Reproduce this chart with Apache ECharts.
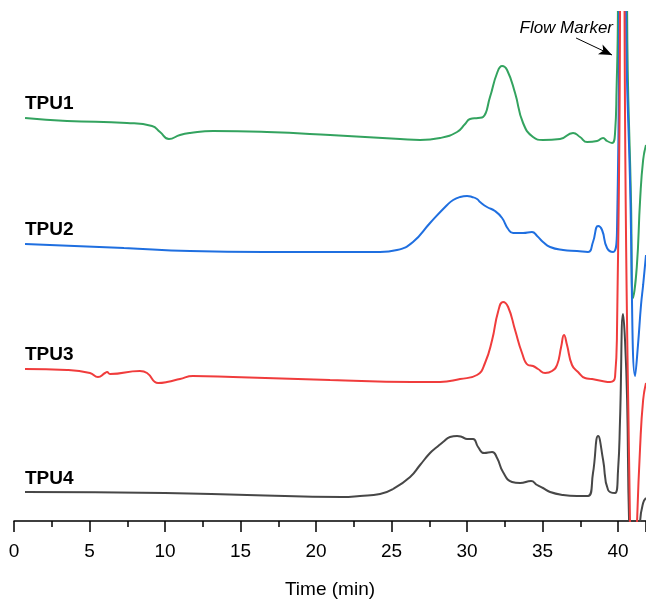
<!DOCTYPE html>
<html><head><meta charset="utf-8">
<script src="https://cdn.jsdelivr.net/npm/echarts@6.0.0/dist/echarts.min.js"></script>
<style>html,body{margin:0;padding:0;background:#fff}#c{width:646px;height:601px}</style>
</head><body><div id="c"></div>
<script>
// Chromatogram data: time (min) and detector signal (a.u., relative to each trace's baseline)
const traceNames = ['TPU1', 'TPU2', 'TPU3', 'TPU4'];
const traceOffsets = [380, 265, 135, 20];
const traceColors = ['#33a35f', '#1f6fe0', '#f03c3c', '#474747'];

const tpu1Time = [0.73, 3.51, 7.48, 9.14, 9.67, 10.26, 10.99, 11.66, 13.18, 16.75, 20.93, 25.56, 26.89, 28.21, 29.34, 29.87, 30.2, 30.73, 31.06, 31.52, 31.99, 32.32, 32.65, 33.18, 33.71, 34.37, 35.03, 36.16, 37.02, 37.48, 37.95, 38.61, 39.01, 39.27, 39.6, 39.8, 39.9, 39.99, 40.3, 40.6, 40.86, 40.99, 41.24, 41.46, 41.66, 41.85];
const tpu1Signal = [23, 20, 18, 15, 9, 2, 6, 8, 10, 9, 6, 2, 1, 3, 9, 17, 22, 23, 24, 44, 68, 75, 71, 48, 18, 4, 1, 2, 8, 4, -1, 0, 3, 0, -2, 8, 51, 129, 2000, 129, -62, -157, -126, -59, -19, -4];

const tpu2Time = [0.73, 7.28, 11.66, 16.56, 20.93, 24.24, 25.36, 26.42, 27.55, 28.68, 29.08, 29.54, 30.0, 30.33, 30.66, 30.86, 31.32, 31.85, 32.32, 32.72, 33.05, 33.71, 34.3, 34.64, 35.03, 35.5, 36.36, 37.28, 38.01, 38.34, 38.68, 38.94, 39.27, 39.67, 39.93, 40.07, 40.3, 40.53, 40.79, 41.13, 41.32, 41.52, 41.66, 41.85];
const tpu2Signal = [12, 8, 5, 4, 4, 4, 6, 14, 33, 51, 56, 59, 60, 59, 57, 54, 49, 45, 38, 27, 23, 23, 24, 20, 14, 9, 6, 5, 4, 14, 30, 26, 8, 4, 26, 244, 2000, 244, 76, -120, -89, -49, -29, 1];

const tpu3Time = [0.73, 3.51, 5.03, 5.56, 6.03, 6.16, 6.36, 8.34, 8.81, 9.54, 10.13, 10.99, 11.85, 14.5, 20.93, 26.36, 28.21, 29.54, 30.66, 31.19, 31.66, 32.05, 32.38, 32.72, 33.18, 33.64, 34.04, 34.37, 34.7, 35.17, 35.63, 35.96, 36.23, 36.42, 36.62, 36.95, 37.35, 37.81, 38.28, 38.94, 39.47, 39.8, 39.93, 40.13, 40.26, 40.43, 40.79, 41.03, 41.26, 41.46, 41.66, 41.85];
const tpu3Signal = [17, 16, 13, 9, 13, 14, 12, 15, 13, 3, 4, 7, 10, 9, 6, 4, 4, 7, 11, 23, 46, 74, 84, 79, 56, 33, 21, 20, 17, 13, 15, 21, 39, 51, 41, 21, 14, 8, 7, 5, 4, 9, 56, 374, 2000, 374, -135, -260, -135, -61, -14, 3];

const tpu4Time = [0.73, 10.0, 15.43, 21.72, 22.91, 24.24, 25.1, 26.23, 26.89, 27.55, 28.01, 28.41, 28.87, 29.34, 29.67, 30.0, 30.4, 30.73, 31.13, 31.66, 31.99, 32.38, 32.98, 33.51, 34.24, 34.64, 35.03, 35.5, 36.36, 37.28, 38.01, 38.34, 38.68, 39.01, 39.34, 39.8, 40.0, 40.13, 40.33, 40.46, 40.6, 40.73, 41.06, 41.46, 41.66, 41.85];
const tpu4Signal = [9, 8, 6, 4, 5, 7, 12, 24, 36, 48, 54, 59, 64, 65, 64, 62, 62, 54, 48, 49, 43, 29, 19, 18, 20, 16, 13, 9, 6, 5, 5, 28, 65, 41, 11, 8, 31, 81, 187, 161, 101, -20, -150, -20, -2, 3];

const xTickValues = [0, 5, 10, 15, 20, 25, 30, 35, 40];
const xAxisName = 'Time (min)';
const flowMarkerText = 'Flow Marker';
const flowMarkerFrom = [37.22, 483];
const flowMarkerTo = [39.6, 466];

const traceTimes = [tpu1Time, tpu2Time, tpu3Time, tpu4Time];
const traceSignals = [tpu1Signal, tpu2Signal, tpu3Signal, tpu4Signal];
const FONT = '"Liberation Sans", Arial, sans-serif';

const chart = echarts.init(document.getElementById('c'), null, {renderer: 'canvas'});

const drawOrder = [3, 0, 1, 2];
const series = drawOrder.map(i => {
  const s = {
    name: traceNames[i],
    type: 'line',
    data: traceTimes[i].map((t, k) => [t, traceSignals[i][k] + traceOffsets[i]]),
    showSymbol: false,
    symbol: 'none',
    smooth: 0.5,
    clip: true,
    lineStyle: {color: traceColors[i], width: 2},
    itemStyle: {color: traceColors[i]},
    silent: true
  };
  if (i === 0) {
    s.markLine = {
      silent: true,
      symbol: ['none', 'arrow'],
      symbolSize: [8, 13],
      label: {show: false},
      lineStyle: {color: '#000', width: 1, type: 'solid'},
      data: [[{coord: flowMarkerFrom}, {coord: flowMarkerTo}]]
    };
  }
  return s;
});

const labelCenters = [103.5, 230, 354.5, 479];
const graphic = traceNames.map((n, i) => ({
  type: 'text', x: 25, y: labelCenters[i],
  style: {text: n, font: 'bold 19px ' + FONT, fill: '#000', verticalAlign: 'middle', textVerticalAlign: 'middle'}
}));
graphic.push({
  type: 'text', x: 613, y: 28,
  style: {text: flowMarkerText, font: 'italic 17px ' + FONT, fill: '#000', align: 'right', textAlign: 'right', verticalAlign: 'middle', textVerticalAlign: 'middle'}
});

chart.setOption({
  animation: false,
  backgroundColor: '#fff',
  grid: {left: 14, right: 0, top: 12, bottom: 80, containLabel: false, outerBoundsMode: 'none'},
  xAxis: {
    type: 'value', min: 0, max: 41.85, interval: 5,
    name: xAxisName, nameLocation: 'middle', nameGap: 59,
    nameTextStyle: {fontSize: 19, color: '#000', fontFamily: FONT},
    axisLine: {show: true, onZero: false, lineStyle: {color: '#000', width: 1.5}},
    axisTick: {show: true, inside: false, length: 11, lineStyle: {color: '#000', width: 1.5}},
    minorTick: {show: true, splitNumber: 2, length: 6, lineStyle: {color: '#000', width: 1.5}},
    splitLine: {show: false},
    minorSplitLine: {show: false},
    axisLabel: {
      fontSize: 19, color: '#000', fontFamily: FONT, margin: 21,
      showMaxLabel: false,
      formatter: v => xTickValues.includes(v) ? String(v) : ''
    }
  },
  yAxis: {type: 'value', min: 0, max: 509, show: false, splitLine: {show: false}},
  series: series,
  graphic: graphic
});
</script>
</body></html>
